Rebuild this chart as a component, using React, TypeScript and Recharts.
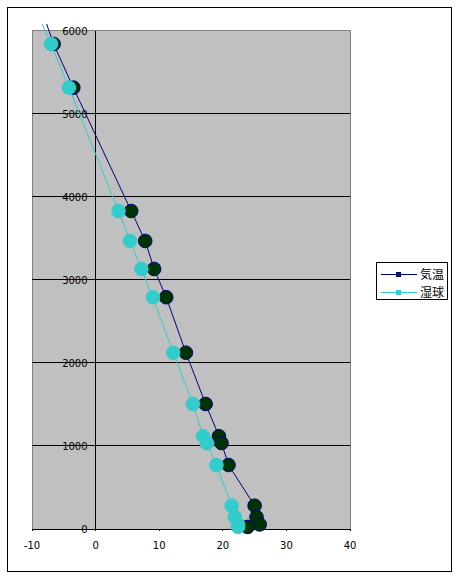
import React from "react";
import {
  ScatterChart,
  Scatter,
  XAxis,
  YAxis,
  ReferenceArea,
  ReferenceLine,
  Legend,
} from "recharts";

// ---- data ----
const heights = [6084, 5843, 5317, 3831, 3470, 3133, 2792, 2124, 1506, 1118, 1035, 771, 281, 145, 55, 25];
const airTemp = [-7.7, -6.6, -3.5, 5.6, 7.8, 9.2, 11.1, 14.2, 17.3, 19.4, 19.8, 20.9, 25.0, 25.3, 25.8, 23.9];
const wetBulb = [-8.4, -7.0, -4.2, 3.6, 5.4, 7.2, 9.0, 12.2, 15.3, 16.9, 17.5, 19.0, 21.4, 21.9, 22.4, 22.4];
const seriesNames = ["気温", "湿球"];
const xTicks = [-10, 0, 10, 20, 30, 40];
const yTicks = [0, 1000, 2000, 3000, 4000, 5000, 6000];

const X_MIN = -10;
const X_MAX = 40;
const Y_MAX_AXIS = 6000;
const Y_DOMAIN_MAX = 6120;

const airData = heights.map((h, i) => ({ t: airTemp[i], h }));
const wetData = heights.map((h, i) => ({ t: wetBulb[i], h }));

// ---- layout ----
const CHART_W = 443;
const CHART_H = 563;
const MARGIN = { top: 13, right: 101, bottom: 12, left: 24 };
const PLOT_W = CHART_W - MARGIN.left - MARGIN.right;
const ZERO_X = MARGIN.left + (PLOT_W * (0 - X_MIN)) / (X_MAX - X_MIN);

const NUM_FONT = "'DejaVu Sans', sans-serif";
const JP_FONT = "'Noto Sans CJK JP', sans-serif";

const AIR_LINE = "#000080";
const AIR_FILL = "#003300";
const WET = "#33CCCC";

const YLabel = (props: any) => {
  const { viewBox, text } = props;
  const y = viewBox ? viewBox.y : 0;
  return (
    <text
      x={ZERO_X - 8}
      y={y}
      dy="0.36em"
      textAnchor="end"
      fontFamily={NUM_FONT}
      fontSize={10}
      fill="#000"
    >
      {text}
    </text>
  );
};

const XTick = (props: any) => {
  const { x, y, payload } = props;
  return (
    <text
      x={x}
      y={y + 14}
      dy="0.36em"
      textAnchor="middle"
      fontFamily={NUM_FONT}
      fontSize={10}
      fill="#000"
    >
      {payload.value}
    </text>
  );
};

const makeMarker = (fill: string, stroke: string) => (props: any) => {
  const { cx, cy, payload } = props;
  if (payload.h > Y_MAX_AXIS || cx == null || cy == null) return <g />;
  return <circle cx={cx} cy={cy} r={6.8} fill={fill} stroke={stroke} strokeWidth={1} />;
};

const AirMarker = makeMarker(AIR_FILL, AIR_LINE);
const WetMarker = makeMarker(WET, WET);

const LegendContent = (props: any) => {
  const items = props.payload || [];
  return (
    <div
      style={{
        width: 72,
        height: 38,
        boxSizing: "border-box",
        border: "1px solid #000",
        background: "#fff",
        paddingTop: 3,
      }}
    >
      {items.map((it: any, i: number) => {
        const lineColor = i === 0 ? AIR_LINE : WET;
        const markColor = i === 0 ? AIR_FILL : WET;
        return (
          <div key={i} style={{ display: "flex", alignItems: "center", height: 16, marginTop: i === 0 ? 0 : 2 }}>
            <svg width={43} height={16} style={{ display: "block" }}>
              <line x1={4} y1={8.5} x2={40} y2={8.5} stroke={lineColor} strokeWidth={1} />
              <rect x={19.5} y={6.5} width={4} height={4} fill={markColor} stroke={lineColor} strokeWidth={1} />
            </svg>
            <span style={{ fontFamily: JP_FONT, fontSize: 12, lineHeight: "16px", color: "#000" }}>
              {it.value}
            </span>
          </div>
        );
      })}
    </div>
  );
};

export default function App() {
  return (
    <div
      style={{
        position: "absolute",
        left: 7,
        top: 7,
        width: CHART_W + 2,
        height: CHART_H + 2,
        border: "1px solid #000",
        boxSizing: "border-box",
        background: "#fff",
      }}
    >
      <ScatterChart width={CHART_W} height={CHART_H} margin={MARGIN}>
        <XAxis
          type="number"
          dataKey="t"
          domain={[X_MIN, X_MAX]}
          ticks={xTicks}
          interval={0}
          allowDataOverflow
          axisLine={{ stroke: "#000", strokeWidth: 1, shapeRendering: "crispEdges" }}
          tickLine={{ stroke: "#000", strokeWidth: 1, shapeRendering: "crispEdges" }}
          tickSize={2}
          tickMargin={0}
          tick={<XTick />}
          height={30}
        />
        <YAxis
          type="number"
          dataKey="h"
          domain={[0, Y_DOMAIN_MAX]}
          ticks={yTicks}
          hide
          width={0}
        />
        <ReferenceArea
          x1={X_MIN}
          x2={X_MAX}
          y1={0}
          y2={Y_MAX_AXIS}
          fill="#C0C0C0"
          fillOpacity={1}
          stroke="#808080"
          strokeWidth={1}
          shapeRendering="crispEdges"
        />
        {yTicks.map((v) => (
          <ReferenceLine
            key={v}
            y={v}
            stroke={v === 0 || v === Y_MAX_AXIS ? "none" : "#000"}
            strokeWidth={1}
            shapeRendering="crispEdges"
            label={<YLabel text={String(v)} />}
          />
        ))}
        <ReferenceLine
          segment={[
            { x: 0, y: 0 },
            { x: 0, y: Y_MAX_AXIS },
          ]}
          stroke="#000"
          strokeWidth={1}
          shapeRendering="crispEdges"
        />
        <Legend
          layout="vertical"
          align="center"
          verticalAlign="middle"
          wrapperStyle={{ left: 368, top: 254, width: 72 }}
          content={<LegendContent />}
        />
        <Scatter
          name={seriesNames[0]}
          data={airData}
          fill={AIR_FILL}
          line={{ stroke: AIR_LINE, strokeWidth: 1 }}
          lineType="joint"
          shape={AirMarker}
          isAnimationActive={false}
        />
        <Scatter
          name={seriesNames[1]}
          data={wetData}
          fill={WET}
          line={{ stroke: WET, strokeWidth: 1 }}
          lineType="joint"
          shape={WetMarker}
          isAnimationActive={false}
        />
      </ScatterChart>
    </div>
  );
}
